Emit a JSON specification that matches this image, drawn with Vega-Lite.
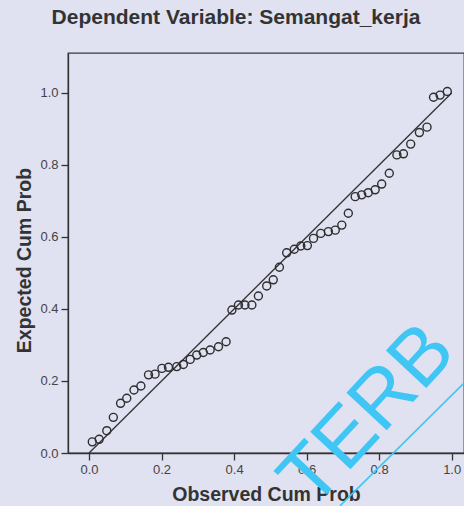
{
  "$schema": "https://vega.github.io/schema/vega-lite/v6.json",
  "autosize": {"type": "none"},
  "padding": {"left": 68, "top": 53, "right": 0, "bottom": 53},
  "width": 396,
  "height": 400,
  "background": "#e0e1f1",
  "title": {
    "text": "Dependent Variable: Semangat_kerja",
    "font": "Liberation Sans",
    "fontSize": 21,
    "fontWeight": "bold",
    "color": "#333333",
    "anchor": "middle",
    "frame": "group",
    "baseline": "alphabetic",
    "offset": 8,
    "dx": -30
  },
  "config": {
    "view": {"stroke": "#3a3a3a", "strokeWidth": 1.3},
    "axis": {
      "grid": false,
      "domainColor": "#333333",
      "domainWidth": 1.3,
      "tickColor": "#333333",
      "tickWidth": 1.3,
      "tickSize": 7,
      "labelFont": "Liberation Sans",
      "labelFontSize": 13,
      "labelColor": "#444444",
      "labelPadding": 3,
      "titleFont": "Liberation Sans",
      "titleFontSize": 19.5,
      "titleFontWeight": "bold",
      "titleColor": "#333333"
    }
  },
  "datasets": {
    "pts": [
      {"observed": 0.009, "expected": 0.031},
      {"observed": 0.028, "expected": 0.038},
      {"observed": 0.049, "expected": 0.062},
      {"observed": 0.067, "expected": 0.099},
      {"observed": 0.087, "expected": 0.138},
      {"observed": 0.104, "expected": 0.152},
      {"observed": 0.124, "expected": 0.175},
      {"observed": 0.143, "expected": 0.186},
      {"observed": 0.164, "expected": 0.217},
      {"observed": 0.182, "expected": 0.219},
      {"observed": 0.201, "expected": 0.235},
      {"observed": 0.219, "expected": 0.238},
      {"observed": 0.242, "expected": 0.240},
      {"observed": 0.260, "expected": 0.246},
      {"observed": 0.279, "expected": 0.260},
      {"observed": 0.297, "expected": 0.272},
      {"observed": 0.315, "expected": 0.279},
      {"observed": 0.334, "expected": 0.286},
      {"observed": 0.357, "expected": 0.295},
      {"observed": 0.378, "expected": 0.309},
      {"observed": 0.394, "expected": 0.397},
      {"observed": 0.412, "expected": 0.411},
      {"observed": 0.430, "expected": 0.411},
      {"observed": 0.449, "expected": 0.411},
      {"observed": 0.467, "expected": 0.436},
      {"observed": 0.490, "expected": 0.464},
      {"observed": 0.508, "expected": 0.481},
      {"observed": 0.525, "expected": 0.516},
      {"observed": 0.545, "expected": 0.556},
      {"observed": 0.566, "expected": 0.566},
      {"observed": 0.584, "expected": 0.575},
      {"observed": 0.602, "expected": 0.576},
      {"observed": 0.619, "expected": 0.596},
      {"observed": 0.639, "expected": 0.610},
      {"observed": 0.660, "expected": 0.615},
      {"observed": 0.679, "expected": 0.619},
      {"observed": 0.697, "expected": 0.633},
      {"observed": 0.715, "expected": 0.666},
      {"observed": 0.734, "expected": 0.712},
      {"observed": 0.752, "expected": 0.717},
      {"observed": 0.770, "expected": 0.723},
      {"observed": 0.789, "expected": 0.731},
      {"observed": 0.807, "expected": 0.747},
      {"observed": 0.828, "expected": 0.777},
      {"observed": 0.849, "expected": 0.828},
      {"observed": 0.867, "expected": 0.831},
      {"observed": 0.887, "expected": 0.858},
      {"observed": 0.911, "expected": 0.890},
      {"observed": 0.932, "expected": 0.905},
      {"observed": 0.950, "expected": 0.988},
      {"observed": 0.968, "expected": 0.994},
      {"observed": 0.988, "expected": 1.004}
    ],
    "diag": [{"x": 0, "y": 0, "x2": 1, "y2": 1}],
    "wmText": [{"x": 0.817, "y": 0.059, "label": "TERB"}],
    "wmLine": [{"x": 0.692, "y": -0.147, "x2": 1.034, "y2": 0.194}]
  },
  "layer": [
    {
      "data": {"name": "diag"},
      "mark": {"type": "rule", "color": "#333333", "strokeWidth": 1.3},
      "encoding": {
        "x": {
          "field": "x", "type": "quantitative",
          "scale": {"domain": [-0.058, 1.034], "nice": false, "zero": false},
          "axis": {
            "title": "Observed Cum Prob",
            "values": [0, 0.2, 0.4, 0.6, 0.8, 1.0],
            "format": ".1f",
            "titleBaseline": "alphabetic",
            "titleY": 47
          }
        },
        "y": {
          "field": "y", "type": "quantitative",
          "scale": {"domain": [0, 1.111], "nice": false, "zero": false},
          "axis": {
            "title": "Expected Cum Prob",
            "values": [0, 0.2, 0.4, 0.6, 0.8, 1.0],
            "format": ".1f",
            "titleBaseline": "alphabetic",
            "titleX": -38,
            "titleY": 207
          }
        },
        "x2": {"field": "x2"},
        "y2": {"field": "y2"}
      }
    },
    {
      "data": {"name": "pts"},
      "mark": {"type": "point", "shape": "circle", "filled": false, "color": "#2e2e2e", "strokeWidth": 1.4, "size": 64, "opacity": 1},
      "encoding": {
        "x": {"field": "observed", "type": "quantitative"},
        "y": {"field": "expected", "type": "quantitative"}
      }
    },
    {
      "data": {"name": "wmText"},
      "mark": {"type": "text", "font": "Liberation Sans", "fontSize": 80, "angle": 313, "align": "center", "baseline": "alphabetic", "color": "#3fc6f4"},
      "encoding": {
        "x": {"field": "x", "type": "quantitative"},
        "y": {"field": "y", "type": "quantitative"},
        "text": {"field": "label"}
      }
    },
    {
      "data": {"name": "wmLine"},
      "mark": {"type": "rule", "color": "#3fc6f4", "strokeWidth": 1.6},
      "encoding": {
        "x": {"field": "x", "type": "quantitative"},
        "y": {"field": "y", "type": "quantitative"},
        "x2": {"field": "x2"},
        "y2": {"field": "y2"}
      }
    }
  ]
}
